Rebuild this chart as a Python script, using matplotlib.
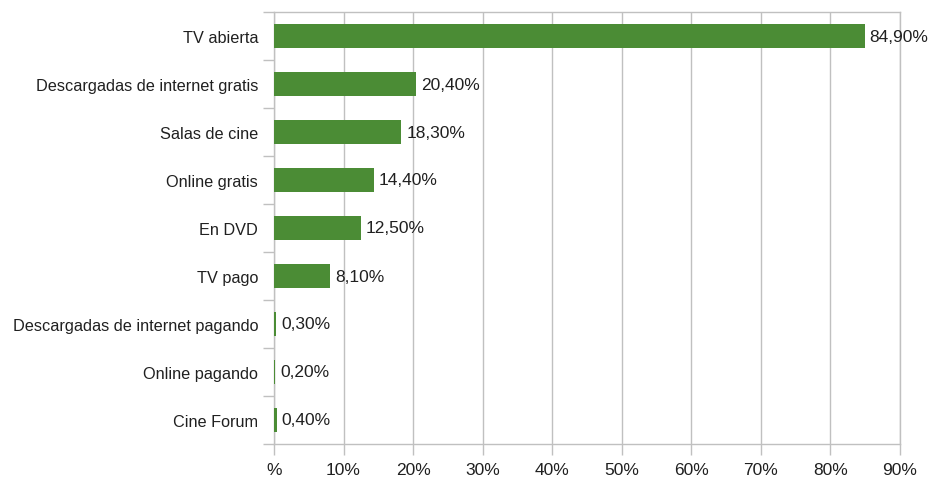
import numpy as np
import matplotlib
matplotlib.use("Agg")
import matplotlib.pyplot as plt
from matplotlib.ticker import FixedLocator

categories = ["TV abierta", "Descargadas de internet gratis", "Salas de cine",
              "Online gratis", "En DVD", "TV pago",
              "Descargadas de internet pagando", "Online pagando", "Cine Forum"]
values = [84.9, 20.4, 18.3, 14.4, 12.5, 8.1, 0.3, 0.2, 0.4]
xticks = [0, 10, 20, 30, 40, 50, 60, 70, 80, 90]
xlabels = ["%", "10%", "20%", "30%", "40%", "50%", "60%", "70%", "80%", "90%"]

plt.rcParams['font.family'] = ['Liberation Sans', 'DejaVu Sans']
green = "#4b8c35"
grey = "#c0c0c0"
txt = "#202020"

fig = plt.figure(figsize=(9.35, 4.81), dpi=100)
ax = fig.add_axes([274/935, 36/481, 626/935, 432/481])

y = np.arange(len(categories))
ax.barh(y, values, height=0.5, color=green, zorder=3)
for yi, v in zip(y, values):
    ax.text(v + 0.7, yi, ("%.2f" % v).replace(".", ",") + "%", va="center",
            ha="left", fontsize=12.5, color=txt, zorder=4)

ax.set_xlim(0, 90)
ax.set_ylim(len(categories) - 0.5, -0.5)
ax.set_xticks(xticks)
ax.set_xticklabels(xlabels, fontsize=12.5, color=txt)
ax.set_yticks(y)
ax.set_yticklabels(categories, fontsize=11.7, color=txt)
ax.yaxis.set_minor_locator(FixedLocator(np.arange(-0.5, len(categories), 1)))
ax.tick_params(axis="y", which="major", length=0, pad=11.5)
ax.tick_params(axis="y", which="minor", length=8, color=grey, width=1)
ax.tick_params(axis="x", length=8, color=grey, width=1, pad=5)
ax.grid(axis="x", color=grey, linewidth=1, zorder=0)
for s in ax.spines.values():
    s.set_color(grey)
    s.set_linewidth(1)

fig.savefig("out.png", dpi=100)
